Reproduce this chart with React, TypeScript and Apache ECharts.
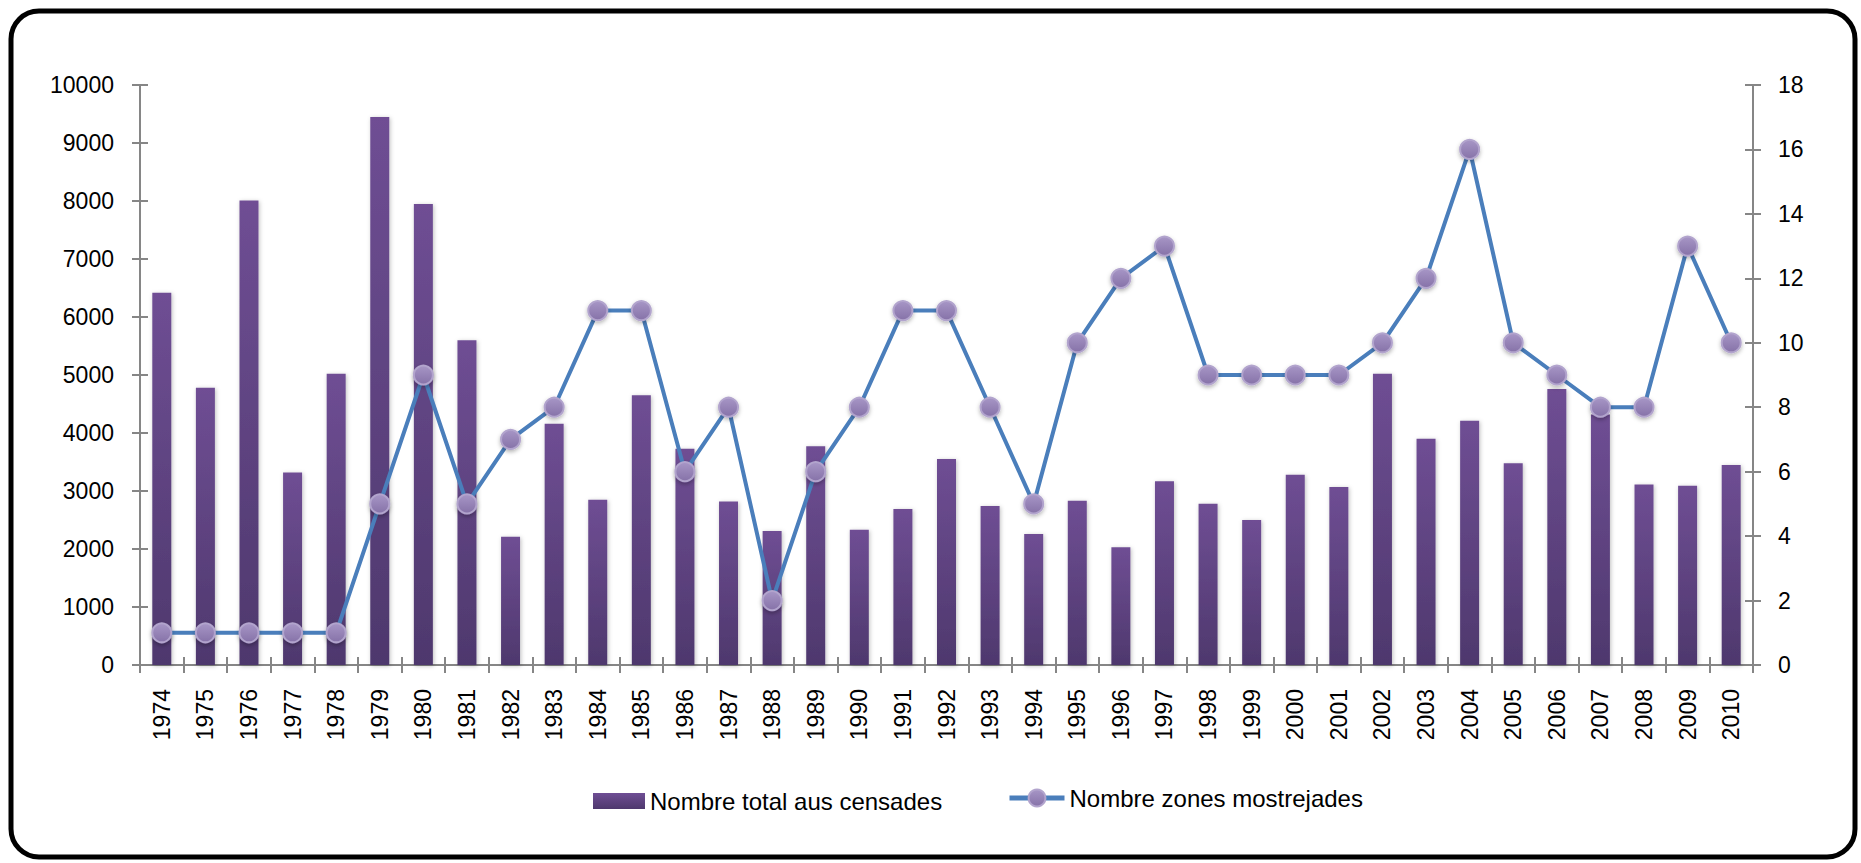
import React, { useEffect, useRef } from "react";
import * as echarts from "echarts";

const years = [
  "1974", "1975", "1976", "1977", "1978", "1979", "1980", "1981", "1982", "1983",
  "1984", "1985", "1986", "1987", "1988", "1989", "1990", "1991", "1992", "1993",
  "1994", "1995", "1996", "1997", "1998", "1999", "2000", "2001", "2002", "2003",
  "2004", "2005", "2006", "2007", "2008", "2009", "2010",
];

const totalCensades = [
  6420, 4780, 8010, 3320, 5020, 9450, 7950, 5600, 2210, 4160,
  2850, 4650, 3730, 2820, 2310, 3770, 2330, 2690, 3550, 2740,
  2260, 2830, 2030, 3170, 2780, 2500, 3280, 3070, 5020, 3900,
  4210, 3480, 4760, 4320, 3110, 3090, 3450,
];

const zonesMostrejades = [
  1, 1, 1, 1, 1, 5, 9, 5, 7, 8,
  11, 11, 6, 8, 2, 6, 8, 11, 11, 8,
  5, 10, 12, 13, 9, 9, 9, 9, 10, 12,
  16, 10, 9, 8, 8, 13, 10,
];

const barName = "Nombre total aus censades";
const lineName = "Nombre zones mostrejades";

const FONT = "Liberation Sans";
const AXIS_COLOR = "#868686";

export default function App() {
  const ref = useRef<HTMLDivElement>(null);

  useEffect(() => {
    if (!ref.current) return;
    const chart = echarts.init(ref.current, null, { renderer: "svg" });

    const barGradient = new echarts.graphic.LinearGradient(0, 0, 0, 1, [
      { offset: 0, color: "#6f4e94" },
      { offset: 1, color: "#4e386d" },
    ]);
    const markerGradient = new echarts.graphic.LinearGradient(0, 0, 0, 1, [
      { offset: 0, color: "#a796c6" },
      { offset: 1, color: "#8672a8" },
    ]);

    const labelStyle = { color: "#000", fontFamily: FONT, fontSize: 23 };
    const legendText = { color: "#000", fontFamily: FONT, fontSize: 24 };

    chart.setOption({
      animation: false,
      backgroundColor: "#ffffff",
      textStyle: { fontFamily: FONT },
      graphic: [
        {
          type: "rect",
          shape: { x: 11, y: 11, width: 1844, height: 846, r: 28 },
          style: { fill: "none", stroke: "#000", lineWidth: 5 },
          silent: true,
          z: 100,
        },
      ],
      grid: { left: 140, right: 108, top: 85, bottom: 198, containLabel: false },
      legend: [
        {
          left: 593,
          top: 789,
          padding: 0,
          itemWidth: 52,
          itemHeight: 16,
          itemGap: 0,
          textStyle: legendText,
          data: [{ name: barName, icon: "rect" }],
        },
        {
          left: 1007,
          top: 786,
          padding: 0,
          itemWidth: 55,
          itemHeight: 21,
          itemGap: 0,
          textStyle: legendText,
          lineStyle: { width: 5 },
          data: [{ name: lineName }],
        },
      ],
      xAxis: [
        {
          type: "category",
          data: years,
          boundaryGap: true,
          axisLine: { show: true, lineStyle: { color: AXIS_COLOR, width: 2 } },
          axisTick: { show: true, length: 8, lineStyle: { color: AXIS_COLOR, width: 2 } },
          axisLabel: { ...labelStyle, rotate: 90, interval: 0, margin: 24 },
          splitLine: { show: false },
        },
        {
          type: "category",
          data: years,
          position: "bottom",
          boundaryGap: true,
          axisLine: { show: false },
          axisTick: { show: true, inside: true, length: 8, lineStyle: { color: AXIS_COLOR, width: 2 } },
          axisLabel: { show: false },
          splitLine: { show: false },
        },
      ],
      yAxis: [
        {
          type: "value",
          min: 0,
          max: 10000,
          interval: 1000,
          position: "left",
          axisLine: { show: true, lineStyle: { color: AXIS_COLOR, width: 2 } },
          axisTick: { show: true, length: 8, lineStyle: { color: AXIS_COLOR, width: 2 } },
          axisLabel: { ...labelStyle, margin: 26, formatter: (v: number) => String(v) },
          splitLine: { show: false },
        },
        {
          type: "value",
          min: 0,
          max: 18,
          interval: 2,
          position: "right",
          axisLine: { show: true, lineStyle: { color: AXIS_COLOR, width: 2 } },
          axisTick: { show: true, length: 8, lineStyle: { color: AXIS_COLOR, width: 2 } },
          axisLabel: { ...labelStyle, margin: 25, formatter: (v: number) => String(v) },
          splitLine: { show: false },
        },
        {
          type: "value",
          min: 0,
          max: 10000,
          interval: 1000,
          position: "left",
          axisLine: { show: false },
          axisTick: { show: true, inside: true, length: 8, lineStyle: { color: AXIS_COLOR, width: 2 } },
          axisLabel: { show: false },
          splitLine: { show: false },
        },
        {
          type: "value",
          min: 0,
          max: 18,
          interval: 2,
          position: "right",
          axisLine: { show: false },
          axisTick: { show: true, inside: true, length: 8, lineStyle: { color: AXIS_COLOR, width: 2 } },
          axisLabel: { show: false },
          splitLine: { show: false },
        },
      ],
      series: [
        {
          name: barName,
          type: "bar",
          xAxisIndex: 0,
          yAxisIndex: 0,
          data: totalCensades,
          barWidth: 19,
          itemStyle: {
            color: barGradient,
            shadowColor: "rgba(0,0,0,0.25)",
            shadowBlur: 4,
            shadowOffsetX: 1,
            shadowOffsetY: 1,
          },
          z: 2,
        },
        {
          name: lineName,
          type: "line",
          xAxisIndex: 0,
          yAxisIndex: 1,
          data: zonesMostrejades,
          symbol: "circle",
          symbolSize: 19,
          showAllSymbol: true,
          lineStyle: { color: "#4a7ebb", width: 4 },
          itemStyle: {
            color: markerGradient,
            borderColor: "#b2a4cd",
            borderWidth: 2,
            shadowColor: "rgba(0,0,0,0.3)",
            shadowBlur: 4,
            shadowOffsetY: 2,
          },
          z: 3,
        },
      ],
    });

    return () => chart.dispose();
  }, []);

  return (
    <div
      ref={ref}
      style={{ position: "absolute", left: 0, top: 0, width: 1861, height: 863 }}
    />
  );
}
